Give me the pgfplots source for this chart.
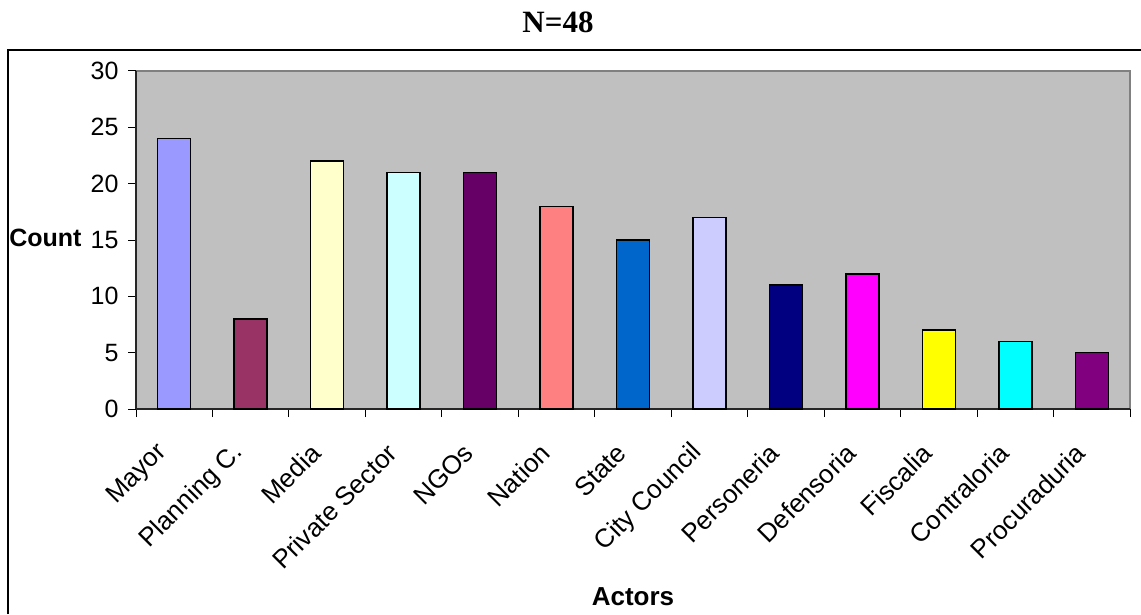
\documentclass[border=0pt]{standalone}
\usepackage{pgfplots}
\pgfplotsset{compat=1.18}
\usepackage{fontspec}
\setmainfont{Liberation Sans}
\newfontfamily\titlefont{Liberation Serif}
\definecolor{bgray}{HTML}{C0C0C0}
\definecolor{bordergray}{HTML}{808080}
\definecolor{c1}{HTML}{9999FF}
\definecolor{c2}{HTML}{993366}
\definecolor{c3}{HTML}{FFFFCC}
\definecolor{c4}{HTML}{CCFFFF}
\definecolor{c5}{HTML}{660066}
\definecolor{c6}{HTML}{FF8080}
\definecolor{c7}{HTML}{0066CC}
\definecolor{c8}{HTML}{CCCCFF}
\definecolor{c9}{HTML}{000080}
\definecolor{c10}{HTML}{FF00FF}
\definecolor{c11}{HTML}{FFFF00}
\definecolor{c12}{HTML}{00FFFF}
\definecolor{c13}{HTML}{800080}
\pgfplotsset{bs/.style={ybar, fill=#1, draw=black, line width=1.4pt, bar shift=0pt, bar width=33pt}}
\begin{document}
\begin{tikzpicture}[x=1pt,y=1pt]
\useasboundingbox (0,0) rectangle (1141,614);
\draw[line width=1.5pt] (8,0) -- (8,564) -- (1141,564);
\node[font=\titlefont\bfseries\fontsize{31}{36}\selectfont] at (558,592) {N=48};
\node[anchor=east, font=\bfseries\fontsize{25}{29}\selectfont] at (85,376) {Count};
\node[font=\bfseries\fontsize{26}{30}\selectfont] at (633,17) {Actors};
\begin{axis}[
  at={(136pt,205pt)}, anchor=south west,
  width=994pt, height=338pt, scale only axis,
  xmin=-0.5, xmax=12.5, ymin=0, ymax=30,
  ytick={0,5,...,30},
  xtick={0,...,12},
  xticklabels={Mayor,Planning C.,Media,Private Sector,NGOs,Nation,State,City Council,Personeria,Defensoria,Fiscalia,Contraloria,Procuraduria},
  minor xtick={-0.5,0.5,...,12.5},
  major x tick style={draw=none},
  tick align=outside,
  major tick length=8pt, minor tick length=8pt,
  tick style={black, line width=1pt},
  axis x line*=bottom, axis y line*=left,
  axis line style={line width=1.5pt, black!85},
  axis background/.style={fill=bgray, draw=bordergray, line width=1.5pt},
  /pgf/number format/assume math mode=true,
  yticklabel style={font=\fontsize{25}{29}\selectfont, anchor=east, xshift=-6pt},
  xticklabel style={font=\fontsize{26}{30}\selectfont, rotate=45, anchor=east, xshift=-27pt, yshift=-14.5pt},
]
\addplot[bs=c1] coordinates {(0,24)};
\addplot[bs=c2] coordinates {(1,8)};
\addplot[bs=c3] coordinates {(2,22)};
\addplot[bs=c4] coordinates {(3,21)};
\addplot[bs=c5] coordinates {(4,21)};
\addplot[bs=c6] coordinates {(5,18)};
\addplot[bs=c7] coordinates {(6,15)};
\addplot[bs=c8] coordinates {(7,17)};
\addplot[bs=c9] coordinates {(8,11)};
\addplot[bs=c10] coordinates {(9,12)};
\addplot[bs=c11] coordinates {(10,7)};
\addplot[bs=c12] coordinates {(11,6)};
\addplot[bs=c13] coordinates {(12,5)};
\end{axis}
\end{tikzpicture}
\end{document}
